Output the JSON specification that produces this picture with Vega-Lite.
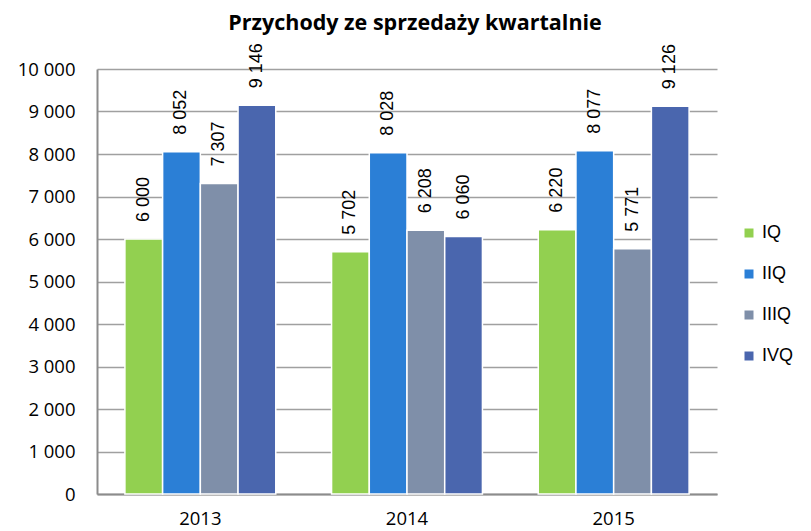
{
  "$schema": "https://vega.github.io/schema/vega-lite/v6.json",
  "width": 620,
  "height": 425,
  "autosize": {"type": "none"},
  "padding": {"left": 97, "top": 69, "right": 94, "bottom": 37},
  "background": "white",
  "config": {
    "locale": {"number": {"decimal": ",", "thousands": " ", "grouping": [3], "currency": ["", ""]}},
    "view": {"stroke": null},
    "axis": {"labelFont": "Open Sans", "labelColor": "#000000"}
  },
  "title": {
    "text": "Przychody ze sprzedaży kwartalnie",
    "font": "Open Sans",
    "fontWeight": "bold",
    "fontSize": 21.5,
    "color": "#000000",
    "anchor": "middle",
    "dx": 8,
    "offset": 9
  },
  "data": {
    "values": [
      {"year": "2013", "quarter": "IQ", "value": 6000},
      {"year": "2013", "quarter": "IIQ", "value": 8052},
      {"year": "2013", "quarter": "IIIQ", "value": 7307},
      {"year": "2013", "quarter": "IVQ", "value": 9146},
      {"year": "2014", "quarter": "IQ", "value": 5702},
      {"year": "2014", "quarter": "IIQ", "value": 8028},
      {"year": "2014", "quarter": "IIIQ", "value": 6208},
      {"year": "2014", "quarter": "IVQ", "value": 6060},
      {"year": "2015", "quarter": "IQ", "value": 6220},
      {"year": "2015", "quarter": "IIQ", "value": 8077},
      {"year": "2015", "quarter": "IIIQ", "value": 5771},
      {"year": "2015", "quarter": "IVQ", "value": 9126}
    ]
  },
  "encoding": {
    "x": {
      "field": "year", "type": "nominal",
      "scale": {"paddingInner": 0.27, "paddingOuter": 0.135},
      "axis": {
        "title": null, "labelAngle": 0, "ticks": false, "labelPadding": 15,
        "labelFontSize": 18.5, "domainColor": "#8c8c8c", "domainWidth": 2,
        "grid": false
      }
    },
    "xOffset": {"field": "quarter", "type": "nominal", "sort": ["IQ", "IIQ", "IIIQ", "IVQ"]},
    "y": {
      "field": "value", "type": "quantitative",
      "scale": {"domain": [0, 10000], "nice": false},
      "axis": {
        "title": null, "values": [0,1000,2000,3000,4000,5000,6000,7000,8000,9000,10000],
        "format": ",d", "ticks": false, "labelPadding": 22, "labelFontSize": 18.5,
        "labelOverlap": false, "labelBound": false, "labelFlush": false,
        "domainColor": "#8c8c8c", "domainWidth": 2,
        "grid": true, "gridColor": "#a0a0a0", "gridWidth": 1.6
      }
    }
  },
  "layer": [
    {
      "mark": {"type": "bar", "stroke": "white", "strokeWidth": 1.5},
      "encoding": {
        "color": {
          "field": "quarter", "type": "nominal",
          "sort": ["IQ", "IIQ", "IIIQ", "IVQ"],
          "scale": {"domain": ["IQ", "IIQ", "IIIQ", "IVQ"], "range": ["#92d050", "#2b7fd6", "#7f8fa9", "#4a66ae"]},
          "legend": {
            "title": null, "orient": "none", "legendX": 643, "legendY": 155,
            "symbolType": "square", "symbolSize": 81, "symbolStrokeWidth": 0,
            "labelFont": "Liberation Sans", "labelFontSize": 18, "labelColor": "#000000",
            "labelOffset": 4, "rowPadding": 23, "padding": 0
          }
        }
      }
    },
    {
      "mark": {"type": "text", "angle": 270, "align": "left", "baseline": "middle", "dx": 17, "font": "Liberation Sans", "fontSize": 18, "color": "#000000"},
      "encoding": {
        "text": {"field": "value", "type": "quantitative", "format": ",d"}
      }
    }
  ]
}
